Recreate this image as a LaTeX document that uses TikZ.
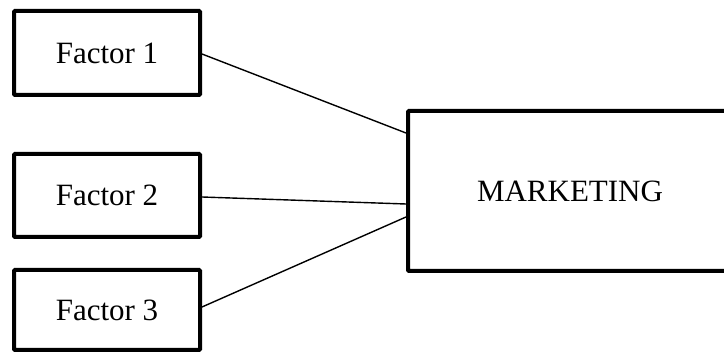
\documentclass[tikz,border=0pt]{standalone}
\usepackage{fontspec}
\setmainfont{Liberation Serif}
\begin{document}
\begin{tikzpicture}[x=1pt,y=-1pt,
  box/.style={draw=black,line width=4pt,inner sep=0pt,rounded corners=1pt,
    font=\fontsize{31}{36}\selectfont},
  link/.style={draw=black,line width=1.4pt}]
\clip (0,0) rectangle (724,355);
\fill[white] (0,0) rectangle (724,355);
\node[box,minimum width=186pt,minimum height=84pt] (f1) at (107,53) {Factor 1};
\node[box,minimum width=186pt,minimum height=83pt] (f2) at (107,195.5) {Factor 2};
\node[box,minimum width=186pt,minimum height=80pt] (f3) at (107,310) {Factor 3};
\node[box,minimum width=324pt,minimum height=160pt] (mk) at (570,191) {MARKETING};
\draw[link] ([yshift=-1pt]f1.east) -- ([yshift=58pt]mk.west);
\draw[link] ([yshift=-1.5pt]f2.east) -- ([yshift=-13pt]mk.west);
\draw[link] ([yshift=3pt]f3.east) -- ([yshift=-26pt]mk.west);
\end{tikzpicture}
\end{document}
